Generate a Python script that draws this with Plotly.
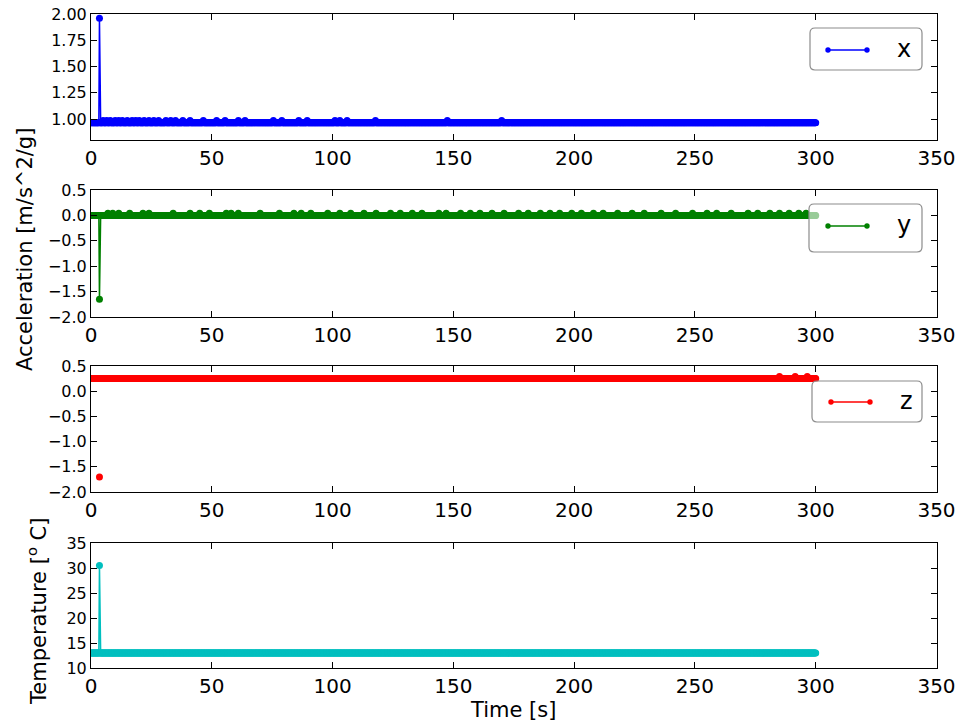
import numpy as np
import plotly.graph_objects as go

# ---------------- data ----------------
time_step_s = 0.25
time_s = np.round(np.arange(0, 300.0 + 1e-9, time_step_s), 2)

x_base = 0.965
x_bump = 0.985
x_spike_t, x_spike_v = 3.5, 1.96
x_bump_times = [5, 6.5, 8, 10, 11.5, 13, 15, 17, 18.5, 20, 22, 24, 26, 28, 31, 33,
                35, 38, 41, 46.5, 52, 55.5, 61, 63.75, 75.5, 79, 86, 89.5, 101,
                103, 106, 117.75, 147.5, 170]

y_base = 0.0
y_bump = 0.04
y_spike_t, y_spike_v = 3.5, -1.65
y_bump_times = [7, 9, 11.5, 16, 21.5, 24, 34, 41, 45, 49, 56, 58, 61, 70, 78, 84,
                87, 91, 98, 103, 107.5, 113, 118, 124, 128, 133, 137, 144, 147,
                153, 157, 161, 166, 171, 177, 181, 186, 190, 194, 199, 203, 208,
                212, 218, 224, 229, 236, 242, 249, 255, 259, 265, 272, 276, 281,
                285, 289, 293, 296]

z_base = 0.25
z_bump = 0.29
z_out_t, z_out_v = 3.5, -1.70
z_bump_times = [285, 291.5, 296.5]

temp_base = 13.0
temp_spike_t, temp_spike_v = 3.5, 30.5

series_names = ["x", "y", "z"]
series_colors = ["#0000ff", "#008000", "#ff0000", "#00bfbf"]


def build(base, bump, bump_times, spike_t=None, spike_v=None, gap=False):
    vals = [base] * len(time_s)
    idx = {float(t): i for i, t in enumerate(time_s)}
    for bt in bump_times:
        vals[idx[float(bt)]] = bump
    if spike_t is not None:
        i = idx[float(spike_t)]
        vals[i] = spike_v
        if gap:
            vals[i - 1] = None
            vals[i + 1] = None
    return vals


acc_x = build(x_base, x_bump, x_bump_times, x_spike_t, x_spike_v)
acc_y = build(y_base, y_bump, y_bump_times, y_spike_t, y_spike_v)
acc_z = build(z_base, z_bump, z_bump_times, z_out_t, z_out_v, gap=True)
temp_c = build(temp_base, temp_base, [], temp_spike_t, temp_spike_v)

# ---------------- figure ----------------
W, H = 960, 727
def px(x):
    return x / W
def py(y):
    return 1 - y / H

left, right = 91, 936.5
panels = [(14, 140), (190, 317), (366, 492), (543, 668)]

fig = go.Figure()
all_series = [acc_x, acc_y, acc_z, temp_c]
for k, vals in enumerate(all_series):
    suffix = "" if k == 0 else str(k + 1)
    fig.add_trace(go.Scatter(
        x=time_s, y=vals, mode="lines+markers",
        line=dict(color=series_colors[k], width=1.5),
        marker=dict(color=series_colors[k], size=7, line=dict(width=0)),
        xaxis="x" + suffix, yaxis="y" + suffix, showlegend=False,
        connectgaps=False,
    ))

font_family = "DejaVu Sans"
axis_common = dict(showline=True, linecolor="black", linewidth=1, mirror="allticks",
                   ticks="inside", ticklen=6, tickwidth=1, tickcolor="black",
                   showgrid=False, zeroline=False, automargin=False)

yranges = [[0.8, 2.0], [-2.0, 0.5], [-2.0, 0.5], [10, 35]]
ytickvals = [[1.0, 1.25, 1.5, 1.75, 2.0],
             [-2.0, -1.5, -1.0, -0.5, 0.0, 0.5],
             [-2.0, -1.5, -1.0, -0.5, 0.0, 0.5],
             [10, 15, 20, 25, 30, 35]]
ytickfmt = [".2f", ".1f", ".1f", "d"]
xtickvals = [0, 50, 100, 150, 200, 250, 300, 350]

layout = dict(width=W, height=H, margin=dict(l=0, r=0, t=0, b=0, pad=0),
              autosize=False, template="none",
              paper_bgcolor="white", plot_bgcolor="white",
              font=dict(family=font_family, color="black"), showlegend=False)
for k, (top, bot) in enumerate(panels):
    suffix = "" if k == 0 else str(k + 1)
    layout["xaxis" + suffix] = dict(axis_common, domain=[px(left), px(right)],
                                    range=[0, 350], tickvals=xtickvals,
                                    anchor="y" + suffix,
                                    tickfont=dict(size=20, family=font_family))
    layout["yaxis" + suffix] = dict(axis_common, domain=[py(bot), py(top)],
                                    range=yranges[k], tickvals=ytickvals[k],
                                    tickformat=ytickfmt[k], anchor="x" + suffix,
                                    tickfont=dict(size=16, family=font_family))
fig.update_layout(**layout)

annotations = [
    dict(text="Acceleration [m/s^2/g]", x=px(25), y=py(250), textangle=-90,
         font=dict(size=21, family=font_family)),
    dict(text="Temperature [<sup>o</sup> C]", x=px(37), y=py(612), textangle=-90,
         font=dict(size=21, family=font_family)),
    dict(text="Time [s]", x=px(513), y=py(710),
         font=dict(size=21, family=font_family)),
]
for a in annotations:
    a.update(xref="paper", yref="paper", showarrow=False,
             xanchor="center", yanchor="middle")

shapes = []
legend_boxes = [(810, 28, 922, 70, 828, 867, 50, 904),
                (809, 204, 922, 252, 828, 867, 226, 904),
                (812, 381, 922, 422, 831, 870, 402, 906)]
r = 5
for name, color, (x0, y0, x1, y1, lx0, lx1, ly, tx) in zip(series_names, series_colors, legend_boxes):
    path = (f"M {px(x0 + r)} {py(y0)} L {px(x1 - r)} {py(y0)} "
            f"Q {px(x1)} {py(y0)} {px(x1)} {py(y0 + r)} "
            f"L {px(x1)} {py(y1 - r)} Q {px(x1)} {py(y1)} {px(x1 - r)} {py(y1)} "
            f"L {px(x0 + r)} {py(y1)} Q {px(x0)} {py(y1)} {px(x0)} {py(y1 - r)} "
            f"L {px(x0)} {py(y0 + r)} Q {px(x0)} {py(y0)} {px(x0 + r)} {py(y0)} Z")
    shapes.append(dict(type="path", path=path, xref="paper", yref="paper",
                       fillcolor="rgba(255,255,255,0.6)",
                       line=dict(color="#8c8c8c", width=1.2)))
    shapes.append(dict(type="line", x0=px(lx0), x1=px(lx1), y0=py(ly), y1=py(ly),
                       xref="paper", yref="paper", line=dict(color=color, width=1.5)))
    for cx in (lx0, lx1):
        shapes.append(dict(type="circle", xref="paper", yref="paper",
                           x0=px(cx - 2.7), x1=px(cx + 2.7), y0=py(ly + 2.7), y1=py(ly - 2.7),
                           fillcolor=color, line=dict(color=color, width=0)))
    annotations.append(dict(text=name, x=px(tx), y=py(ly - 1), xref="paper", yref="paper",
                            showarrow=False, xanchor="center", yanchor="middle",
                            font=dict(size=24, family=font_family)))

fig.update_layout(annotations=annotations, shapes=shapes)
fig.write_html("out.html")
